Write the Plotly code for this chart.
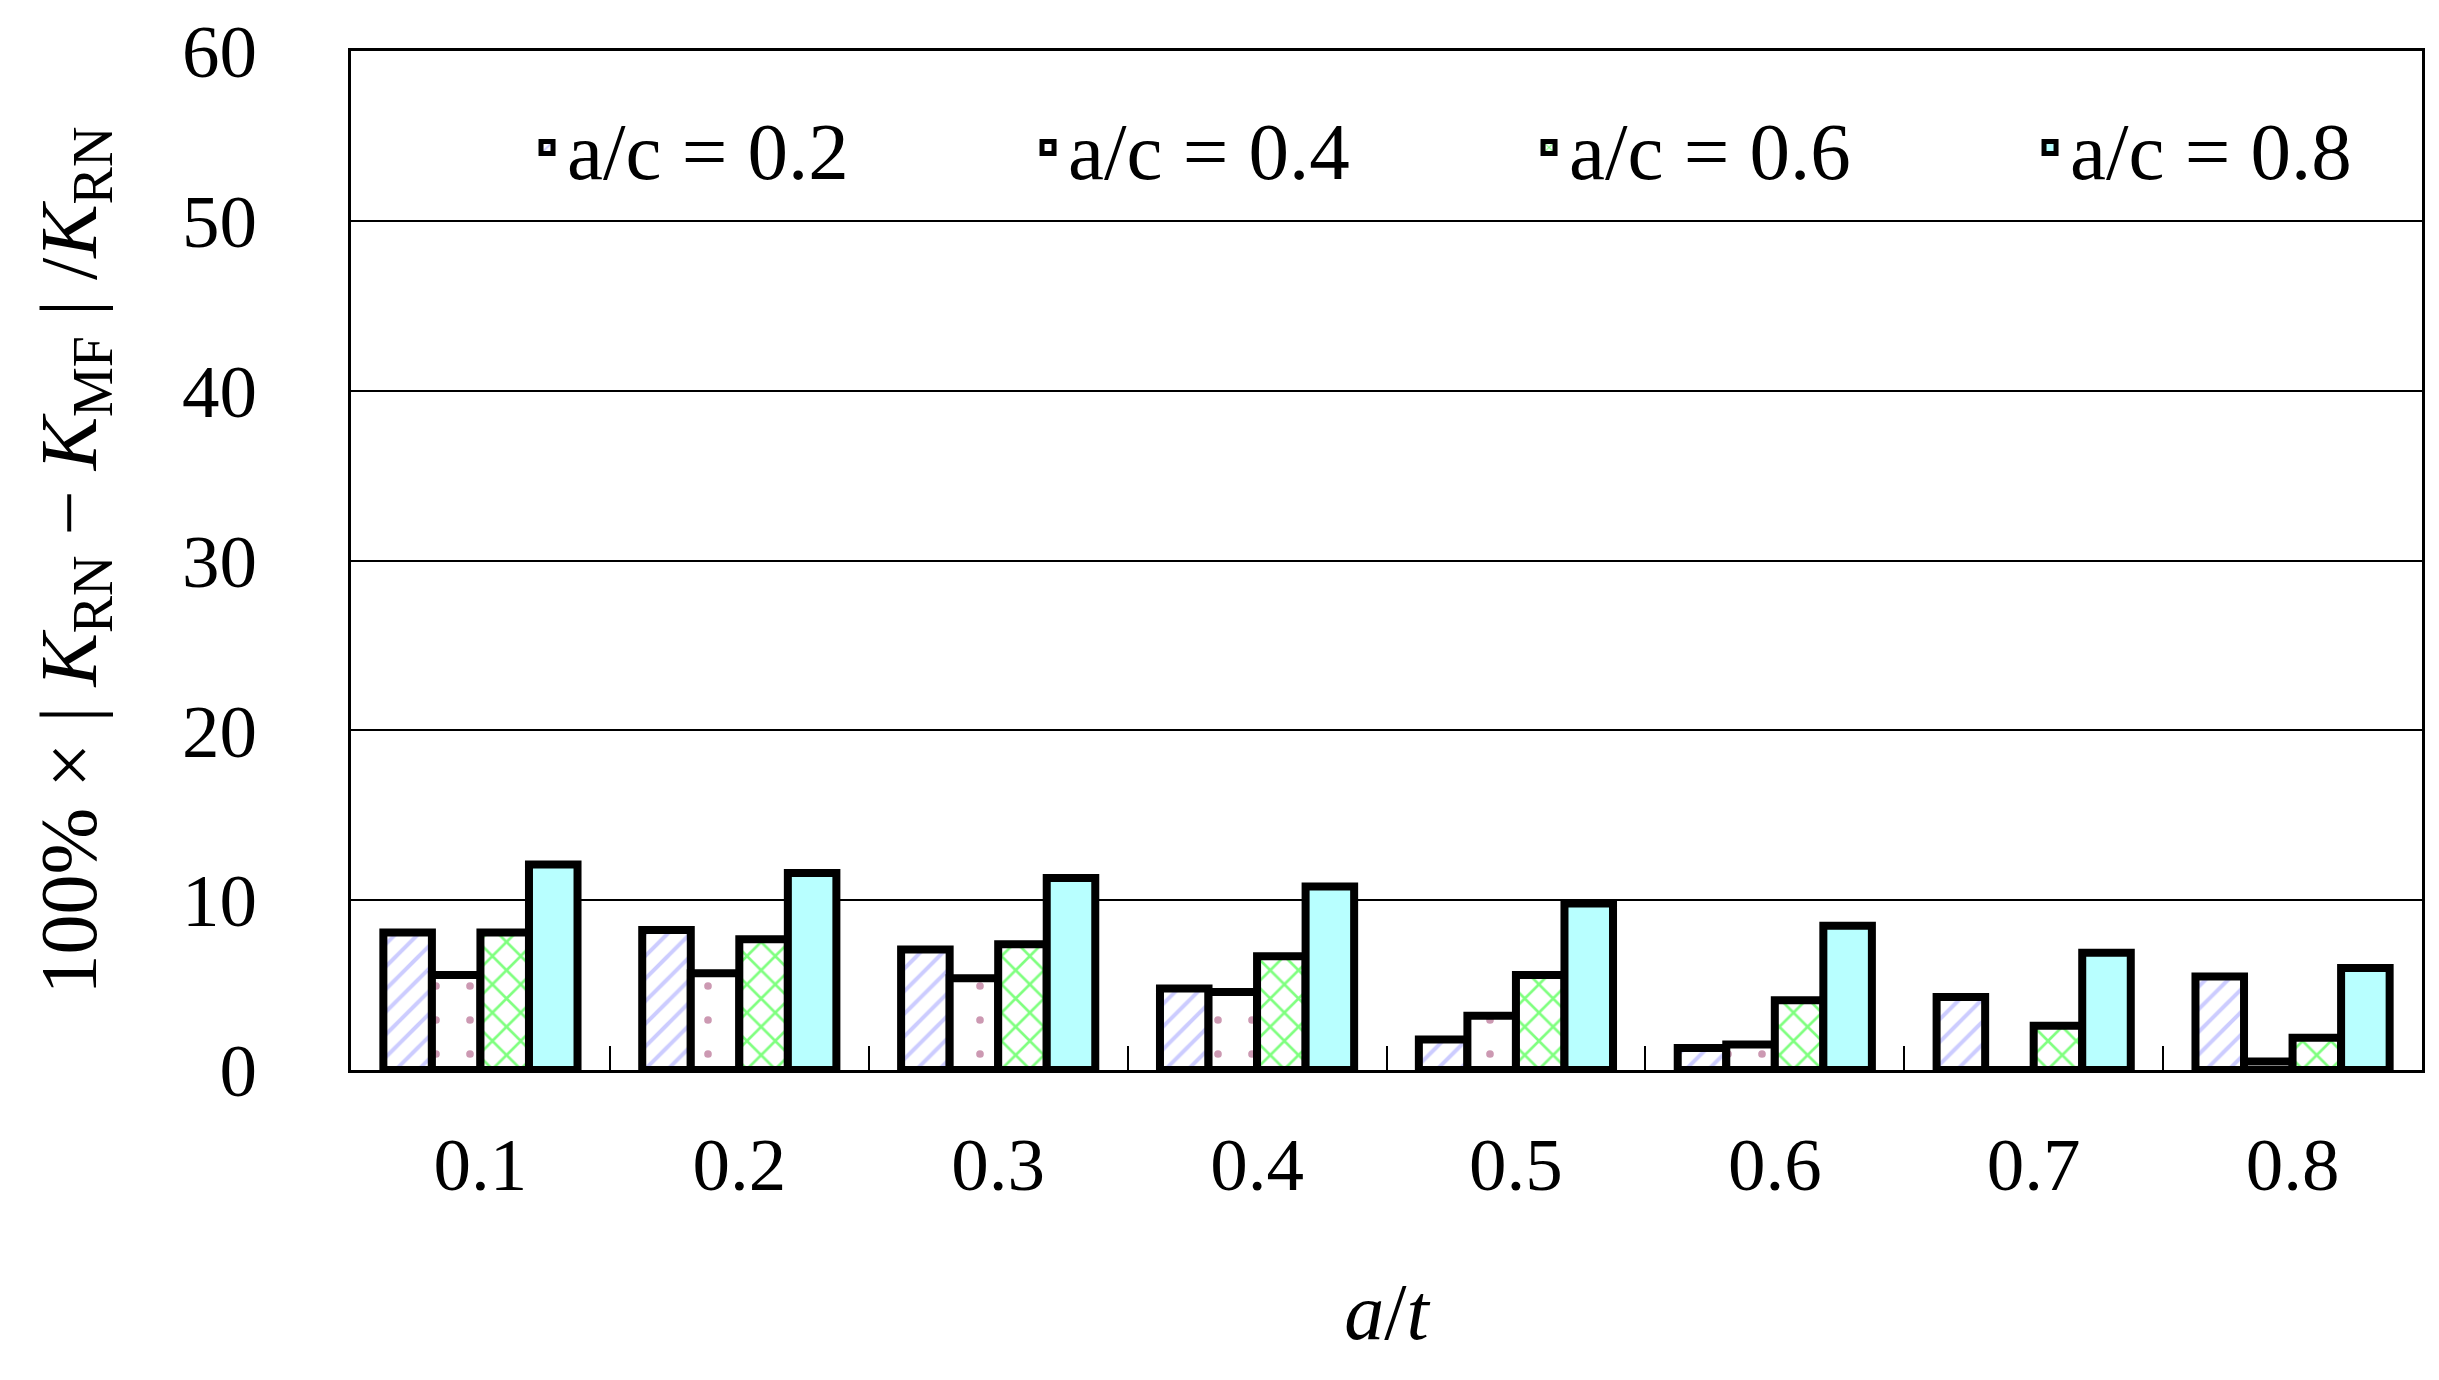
import plotly.graph_objects as go

categories = ["0.1", "0.2", "0.3", "0.4", "0.5", "0.6", "0.7", "0.8"]
series_names = ["a/c = 0.2", "a/c = 0.4", "a/c = 0.6", "a/c = 0.8"]
ac_02 = [8.1, 8.25, 7.1, 4.8, 1.8, 1.3, 4.3, 5.5]
ac_04 = [5.6, 5.7, 5.4, 4.6, 3.2, 1.5, 0.0, 0.5]
ac_06 = [8.1, 7.7, 7.4, 6.7, 5.6, 4.1, 2.6, 1.9]
ac_08 = [12.1, 11.6, 11.3, 10.8, 9.8, 8.5, 6.9, 6.0]
y_ticks = [0, 10, 20, 30, 40, 50, 60]

FONT = "Liberation Serif, Times New Roman, serif"

styles = [
    dict(bgcolor="white", fgcolor="#9999FF", shape="/", size=16, solidity=0.25),
    dict(bgcolor="white", fgcolor="#993366", shape=".", size=34, solidity=0.04),
    dict(bgcolor="white", fgcolor="#00FF00", shape="x", size=20, solidity=0.25),
    None,
]
fills = ["white", "white", "white", "#B8FFFF"]

fig = go.Figure()
for name, vals, pat, fc in zip(series_names, [ac_02, ac_04, ac_06, ac_08], styles, fills):
    marker = dict(color=fc, line=dict(color="black", width=8))
    if pat is not None:
        marker["pattern"] = pat
    fig.add_trace(go.Bar(x=categories, y=vals, name=name, marker=marker))

fig.update_layout(
    width=2431, height=1372,
    paper_bgcolor="white", plot_bgcolor="white",
    margin=dict(l=343, r=17, t=43, b=310, autoexpand=False),
    barmode="group", bargap=0.25, bargroupgap=0,
    font=dict(family=FONT, size=75, color="black"),
    legend=dict(
        orientation="h", x=0.085, y=0.905, xanchor="left", yanchor="middle",
        font=dict(family=FONT, size=81), bgcolor="rgba(0,0,0,0)",
        entrywidth=456,
    ),
    showlegend=True,
)
fig.update_xaxes(
    type="category", tickson="boundaries", ticks="inside", ticklen=24, tickwidth=2,
    tickcolor="black", showline=True, linecolor="black", linewidth=3, mirror=True,
    showgrid=False, ticklabelstandoff=27,
    tickfont=dict(family=FONT, size=75),
    title=dict(text="<i>a</i>/<i>t</i>", font=dict(family=FONT, size=80), standoff=78),
)
fig.update_yaxes(
    range=[0, 60], tickvals=y_ticks, ticks="inside", ticklen=9, tickwidth=2,
    tickcolor="black", showline=True, linecolor="black", linewidth=3, mirror=True,
    showgrid=True, gridcolor="black", gridwidth=2, zeroline=False,
    ticklabelstandoff=76, tickfont=dict(family=FONT, size=75),
    title=dict(
        text="100% × | <i>K</i><sub>RN</sub> − <i>K</i><sub>MF</sub> | /<i>K</i><sub>RN</sub>",
        font=dict(family=FONT, size=80), standoff=60,
    ),
)

fig.write_html("out.html")
